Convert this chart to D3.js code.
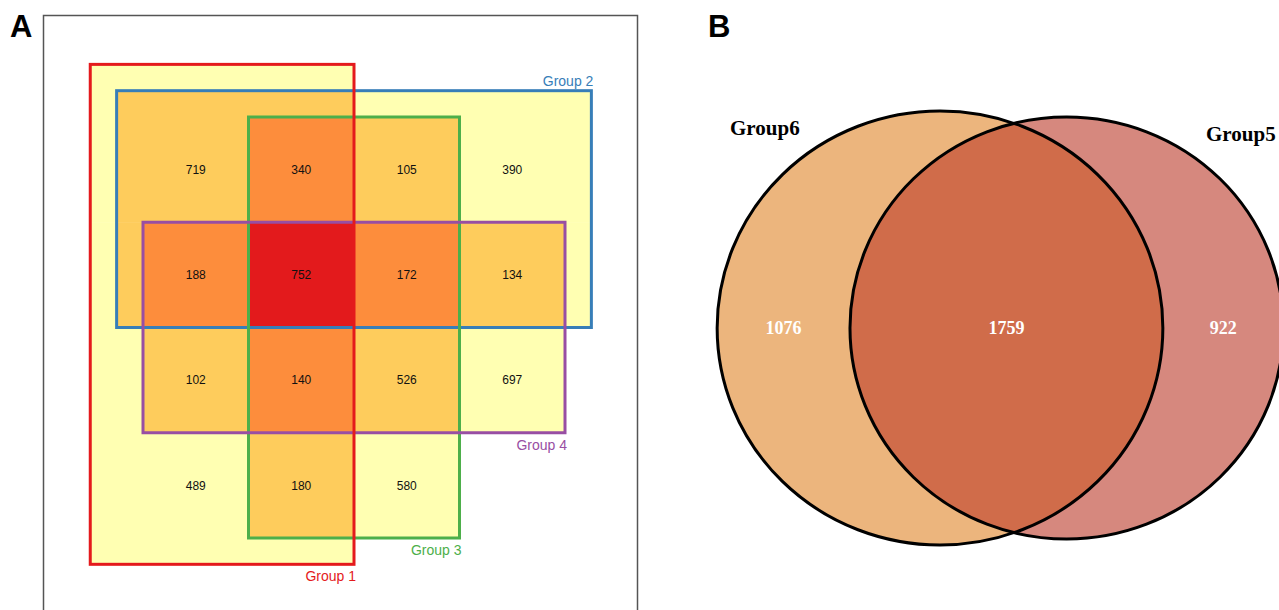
<!DOCTYPE html>
<html>
<head>
<meta charset="utf-8">
<script src="https://cdn.jsdelivr.net/npm/d3@7"></script>
<style>
  body { margin: 0; background: #fff; }
  svg { display: block; }
</style>
</head>
<body>
<div id="chart"></div>
<script>
// panel A: 4 group grid venn
const groupsA = ['Group 1', 'Group 2', 'Group 3', 'Group 4']
const cellValues = [
    [719, 340, 105, 390],
    [188, 752, 172, 134],
    [102, 140, 526, 697],
    [489, 180, 580, null]
]
// panel B: 2 group venn
const groupsB = ['Group6', 'Group5']
const onlyB = [1076, 922]
const sharedB = 1759

const groupColors = ['#e41a1c', '#377eb8', '#4daf4a', '#984ea3']
const fillColors = d3.schemeYlOrRd[4]

// extent of each group box in grid units (layout)
const boxes = [
    { x0: -0.5, x1: 2, y0: -0.5, y1: 4.25 },
    { x0: -0.25, x1: 4.25, y0: -0.25, y1: 2 },
    { x0: 1, x1: 3, y0: 0, y1: 4 },
    { x0: 0, x1: 4, y0: 1, y1: 3 }
]

let width = 1279, height = 610

let svg = d3.select('#chart')
    .append('svg')
    .attr('width', width)
    .attr('height', height)

// panel letters
svg.selectAll('text.panel')
    .data(['A', 'B'])
    .enter()
    .append('text')
    .attr('class', 'panel')
    .attr('x', (d, i) => i === 0 ? 10 : 708)
    .attr('y', 37)
    .style('font-family', 'Arial, "Liberation Sans", sans-serif')
    .style('font-weight', 'bold')
    .style('font-size', '31px')
    .text(d => d)

// ---------- panel A ----------
let gA = svg.append('g')

gA.append('rect')
    .attr('x', 43.5)
    .attr('y', 15.5)
    .attr('width', 594)
    .attr('height', 620)
    .attr('fill', 'none')
    .attr('stroke', '#555')
    .attr('stroke-width', 1.5)

let x = d3.scaleLinear().domain([0, 4]).range([143, 565])
let y = d3.scaleLinear().domain([0, 4]).range([117, 538])

// split into small regions on every box edge, colour by how many groups cover it
let xs = Array.from(new Set(boxes.flatMap(b => [b.x0, b.x1]))).sort((a, b) => a - b)
let ys = Array.from(new Set(boxes.flatMap(b => [b.y0, b.y1]))).sort((a, b) => a - b)
let regions = []
for (let i = 0; i < xs.length - 1; i++) {
    for (let j = 0; j < ys.length - 1; j++) {
        let cx = (xs[i] + xs[i + 1]) / 2, cy = (ys[j] + ys[j + 1]) / 2
        let n = boxes.filter(b => cx > b.x0 && cx < b.x1 && cy > b.y0 && cy < b.y1).length
        if (n > 0) regions.push({ x0: xs[i], x1: xs[i + 1], y0: ys[j], y1: ys[j + 1], n: n })
    }
}

gA.selectAll('rect.region')
    .data(regions)
    .enter()
    .append('rect')
    .attr('class', 'region')
    .attr('x', d => x(d.x0))
    .attr('y', d => y(d.y0))
    .attr('width', d => x(d.x1) - x(d.x0) + 0.5)
    .attr('height', d => y(d.y1) - y(d.y0) + 0.5)
    .attr('fill', d => fillColors[d.n - 1])

// numbers
let cells = cellValues.flatMap((row, r) => row.map((v, c) => ({ r, c, v })))
    .filter(d => d.v !== null)

gA.selectAll('text.num')
    .data(cells)
    .enter()
    .append('text')
    .attr('class', 'num')
    .attr('x', d => x(d.c + 0.5))
    .attr('y', d => y(d.r + 0.5))
    .attr('dy', '0.35em')
    .attr('text-anchor', 'middle')
    .style('font-family', 'Arial, "Liberation Sans", sans-serif')
    .style('font-size', '12px')
    .attr('fill', '#111')
    .text(d => d.v)

// group outlines
let order = [1, 2, 3, 0]
gA.selectAll('rect.box')
    .data(order)
    .enter()
    .append('rect')
    .attr('class', 'box')
    .attr('x', i => x(boxes[i].x0))
    .attr('y', i => y(boxes[i].y0))
    .attr('width', i => x(boxes[i].x1) - x(boxes[i].x0))
    .attr('height', i => y(boxes[i].y1) - y(boxes[i].y0))
    .attr('fill', 'none')
    .attr('stroke', i => groupColors[i])
    .attr('stroke-width', 3)

gA.selectAll('text.glabel')
    .data(groupsA)
    .enter()
    .append('text')
    .attr('class', 'glabel')
    .attr('x', (d, i) => x(boxes[i].x1) + 2)
    .attr('y', (d, i) => i === 1 ? y(boxes[i].y0) - 5 : y(boxes[i].y1) + 17)
    .attr('text-anchor', 'end')
    .attr('fill', (d, i) => groupColors[i])
    .style('font-family', 'Arial, "Liberation Sans", sans-serif')
    .style('font-size', '14px')
    .text(d => d)

// ---------- panel B ----------
let gB = svg.append('g')
let totals = [onlyB[0] + sharedB, onlyB[1] + sharedB]
let r = d3.scaleSqrt().domain([0, totals[0]]).range([0, 217])
let r1 = r(totals[0]), r2 = r(totals[1])

function lens(a, b, d) {
    let t1 = a * a * Math.acos((d * d + a * a - b * b) / (2 * d * a))
    let t2 = b * b * Math.acos((d * d + b * b - a * a) / (2 * d * b))
    let t3 = 0.5 * Math.sqrt((-d + a + b) * (d + a - b) * (d - a + b) * (d + a + b))
    return t1 + t2 - t3
}
// find centre distance so the overlap area matches the shared count
let target = Math.PI * r1 * r1 * sharedB / totals[0]
let lo = Math.abs(r1 - r2) + 0.01, hi = r1 + r2 - 0.01
for (let k = 0; k < 60; k++) {
    let mid = (lo + hi) / 2
    if (lens(r1, r2, mid) > target) lo = mid
    else hi = mid
}
let dist = (lo + hi) / 2
let sx = 1.027 // picture is slightly stretched sideways
let cy = 328
let circles = [
    { cx: 940, r: r1, fill: '#ecb57d' },
    { cx: 940 + dist * sx, r: r2, fill: '#d6887e' }
]

gB.append('clipPath')
    .attr('id', 'clipLeft')
    .append('ellipse')
    .attr('cx', circles[0].cx)
    .attr('cy', cy)
    .attr('rx', circles[0].r * sx)
    .attr('ry', circles[0].r)

gB.selectAll('ellipse.fill')
    .data(circles)
    .enter()
    .append('ellipse')
    .attr('class', 'fill')
    .attr('cx', d => d.cx)
    .attr('cy', cy)
    .attr('rx', d => d.r * sx)
    .attr('ry', d => d.r)
    .attr('fill', d => d.fill)

gB.append('ellipse')
    .attr('cx', circles[1].cx)
    .attr('cy', cy)
    .attr('rx', circles[1].r * sx)
    .attr('ry', circles[1].r)
    .attr('clip-path', 'url(#clipLeft)')
    .attr('fill', '#d06c4a')

gB.selectAll('ellipse.line')
    .data(circles)
    .enter()
    .append('ellipse')
    .attr('class', 'line')
    .attr('cx', d => d.cx)
    .attr('cy', cy)
    .attr('rx', d => d.r * sx)
    .attr('ry', d => d.r)
    .attr('fill', 'none')
    .attr('stroke', '#000')
    .attr('stroke-width', 3)

let lensLeft = circles[1].cx - circles[1].r * sx
let lensRight = circles[0].cx + circles[0].r * sx
let numsB = [
    { v: onlyB[0], x: (circles[0].cx - circles[0].r * sx + lensLeft) / 2 },
    { v: sharedB, x: (lensLeft + lensRight) / 2 },
    { v: onlyB[1], x: (lensRight + circles[1].cx + circles[1].r * sx) / 2 }
]
gB.selectAll('text.numB')
    .data(numsB)
    .enter()
    .append('text')
    .attr('class', 'numB')
    .attr('x', d => d.x)
    .attr('y', 334)
    .attr('text-anchor', 'middle')
    .attr('fill', '#fff')
    .style('font-family', '"Times New Roman", "Liberation Serif", serif')
    .style('font-weight', 'bold')
    .style('font-size', '18px')
    .text(d => d.v)

gB.selectAll('text.labB')
    .data(groupsB)
    .enter()
    .append('text')
    .attr('class', 'labB')
    .attr('x', (d, i) => i === 0 ? 730 : 1206)
    .attr('y', (d, i) => i === 0 ? 135 : 141)
    .style('font-family', '"Times New Roman", "Liberation Serif", serif')
    .style('font-weight', 'bold')
    .style('font-size', '21px')
    .text(d => d)
</script>
</body>
</html>
